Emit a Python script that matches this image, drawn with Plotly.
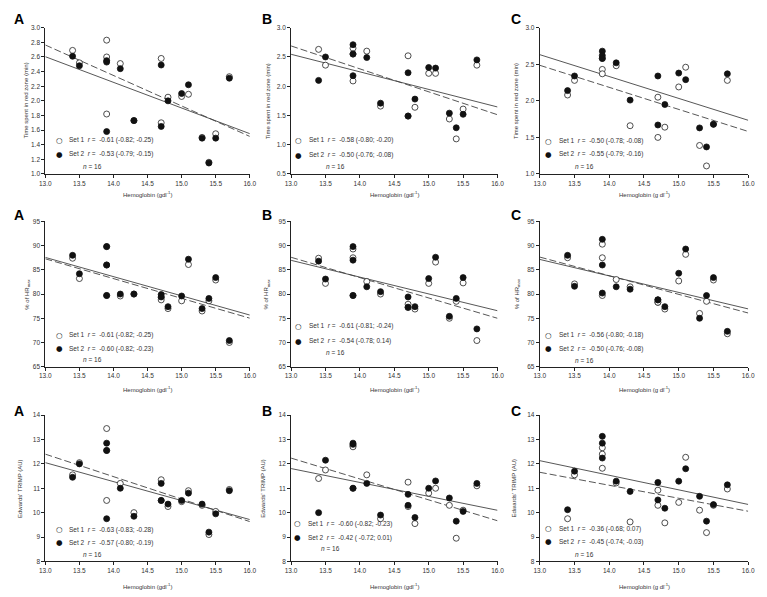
import numpy as np
import plotly.graph_objects as go

# hemoglobin (g/dl), same 16 subjects in every panel
hb = [13.4, 13.5, 13.9, 13.9, 13.9, 14.1, 14.3, 14.7, 14.7, 14.8, 15.0, 15.1, 15.3, 15.4, 15.5, 15.7]

# row 1: time spent in red zone (min)
red_a_set1 = [2.69, 2.52, 2.83, 2.60, 1.82, 2.51, 1.73, 2.58, 1.70, 2.05, 2.06, 2.09, 1.50, 1.16, 1.55, 2.33]
red_a_set2 = [2.61, 2.48, 2.55, 2.53, 1.58, 2.44, 1.73, 2.49, 1.65, 2.00, 2.10, 2.22, 1.49, 1.15, 1.49, 2.31]
red_b_set1 = [2.63, 2.36, 2.65, 2.55, 2.09, 2.60, 1.66, 2.52, 1.49, 1.64, 2.22, 2.22, 1.44, 1.10, 1.61, 2.36]
red_b_set2 = [2.10, 2.50, 2.71, 2.55, 2.18, 2.49, 1.71, 2.23, 1.49, 1.78, 2.32, 2.31, 1.54, 1.29, 1.52, 2.45]
red_c_set1 = [2.08, 2.28, 2.43, 2.37, 2.58, 2.48, 1.66, 2.05, 1.50, 1.64, 2.19, 2.46, 1.39, 1.11, 1.68, 2.28]
red_c_set2 = [2.14, 2.34, 2.68, 2.62, 2.58, 2.52, 2.01, 2.34, 1.67, 1.95, 2.38, 2.29, 1.63, 1.37, 1.68, 2.37]

# row 2: % of HRmax
hr_a_set1 = [87.4, 83.2, 89.8, 86.0, 79.7, 79.6, 80.0, 79.3, 78.8, 77.0, 78.6, 86.1, 76.5, 78.6, 82.9, 70.0]
hr_a_set2 = [88.0, 84.2, 89.8, 86.0, 79.7, 80.0, 80.0, 79.9, 79.4, 77.4, 79.6, 87.2, 77.0, 79.1, 83.4, 70.4]
hr_b_set1 = [87.4, 82.2, 89.3, 87.5, 79.7, 82.6, 80.0, 77.9, 77.2, 76.9, 82.2, 86.6, 75.0, 78.5, 82.3, 70.4]
hr_b_set2 = [86.8, 83.1, 89.8, 87.0, 79.7, 81.5, 80.5, 79.4, 77.3, 77.4, 83.2, 87.6, 75.4, 79.1, 83.4, 72.8]
hr_c_set1 = [87.5, 82.1, 90.3, 87.5, 79.7, 83.0, 81.5, 78.3, 78.3, 76.9, 82.7, 88.2, 76.0, 78.5, 82.9, 71.8]
hr_c_set2 = [88.0, 81.6, 91.3, 86.0, 80.2, 81.5, 81.0, 78.8, 78.8, 77.4, 84.3, 89.3, 75.0, 79.7, 83.4, 72.3]

# row 3: Edwards' TRIMP (AU)
trimp_a_set1 = [11.55, 12.05, 13.45, 12.55, 10.5, 11.2, 10.0, 11.35, 10.5, 10.25, 10.45, 10.9, 10.3, 9.1, 10.05, 10.95]
trimp_a_set2 = [11.45, 12.0, 12.85, 12.55, 9.75, 11.0, 9.85, 11.2, 10.5, 10.35, 10.5, 10.8, 10.35, 9.2, 9.95, 10.9]
trimp_b_set1 = [11.4, 11.75, 12.75, 12.7, 11.0, 11.55, 9.75, 11.25, 10.25, 9.55, 10.8, 11.0, 10.3, 8.95, 10.1, 11.1]
trimp_b_set2 = [10.0, 12.15, 12.85, 12.8, 11.0, 11.2, 9.9, 10.75, 10.3, 9.8, 11.0, 11.3, 10.6, 9.65, 10.05, 11.2]
trimp_c_set1 = [9.75, 11.55, 12.66, 12.40, 11.82, 11.22, 9.62, 10.92, 10.30, 9.58, 10.42, 12.27, 10.10, 9.18, 10.30, 10.97]
trimp_c_set2 = [10.12, 11.70, 13.13, 12.85, 12.24, 11.29, 10.87, 11.24, 10.52, 10.18, 11.29, 11.80, 10.67, 9.65, 10.33, 11.14]

# correlation text per panel (set 1, set 2)
r_text = [
    ("-0.61 (-0.82; -0.25)", "-0.53 (-0.79; -0.15)"),
    ("-0.58 (-0.80; -0.20)", "-0.50 (-0.76; -0.08)"),
    ("-0.50 (-0.78; -0.08)", "-0.55 (-0.79; -0.16)"),
    ("-0.61 (-0.82; -0.25)", "-0.60 (-0.82; -0.23)"),
    ("-0.61 (-0.81; -0.24)", "-0.54 (-0.78; 0.14)"),
    ("-0.56 (-0.80; -0.18)", "-0.50 (-0.76; -0.08)"),
    ("-0.63 (-0.83; -0.28)", "-0.57 (-0.80; -0.19)"),
    ("-0.60 (-0.82; -0.23)", "-0.42 ( -0.72; 0.01)"),
    ("-0.36 (-0.68; 0.07)", "-0.45 (-0.74; -0.03)"),
]
set_labels = ["Set 1", "Set 2"]
panel_letters = ["A", "B", "C"]
n_subjects = 16

series = [
    (red_a_set1, red_a_set2), (red_b_set1, red_b_set2), (red_c_set1, red_c_set2),
    (hr_a_set1, hr_a_set2), (hr_b_set1, hr_b_set2), (hr_c_set1, hr_c_set2),
    (trimp_a_set1, trimp_a_set2), (trimp_b_set1, trimp_b_set2), (trimp_c_set1, trimp_c_set2),
]

# ---- layout geometry (pixels) ----
W, H = 767, 597
col_px = [(40, 248), (290, 500), (543, 755)]
row_px = [(24, 172), (220, 367), (416, 564)]
yranges = [[(1, 3), (0.5, 3), (1, 3)], [(65, 95)] * 3, [(8, 14)] * 3]
ydticks = [[0.2, 0.5, 0.5], [5] * 3, [1] * 3]
yformats = [".1f", "d", "d"]
ytitles = ["Time spent in red zone (min)", "% of HR<sub>max</sub>", "Edwards' TRIMP (AU)"]
xtitles = ["Hemoglobin (gdl<sup>-1</sup>)", "Hemoglobin (gdl<sup>-1</sup>)", "Hemoglobin (g dl<sup>-1</sup>)"]
ytitle_x = [[20, 266, 519], [21, 265, 520], [15, 262, 517]]
letter_x = [6, 258, 512]
letter_y = [15, 213, 412]
xtitle_y = [192, 390, 589]
legend_sym_x = [[54, 298, 552], [54, 298, 552], [54, 297, 552]]
legend_y = [[(138, 152, 164), (138, 153, 164), (139, 152, 164)],
            [(335, 349, 360), (326, 341, 353), (335, 349, 361)],
            [(532, 545, 557), (526, 540, 551), (531, 544, 557)]]
n_x = [[76, 323, 577], [76, 323, 577], [76, 318, 577]]

FONT = "Arial, Liberation Sans, sans-serif"
TICK_FONT = "Liberation Sans Narrow, Arial Narrow, Arial, sans-serif"
def px(x):
    return x / W
def py(y):
    return 1 - y / H

def note(text, x, y, xanchor="center", size=6, **kw):
    font = dict(size=size, color="#333", family=FONT)
    font.update(kw.pop("font", {}))
    return dict(text=text, x=px(x), y=py(y), xref="paper", yref="paper", showarrow=False,
                xanchor=xanchor, yanchor="middle", font=font, **kw)

fig = go.Figure()
annotations = []
layout = {}

for i in range(9):
    r, c = divmod(i, 3)
    sfx = "" if i == 0 else str(i + 1)
    xa, ya = "x" + sfx, "y" + sfx
    s1, s2 = series[i]

    xs = np.array([13.0, 16.0])
    # regression lines: set 1 dashed, set 2 solid
    for ys, dash in ((s1, "7px,3px"), (s2, "solid")):
        k, b = np.polyfit(hb, ys, 1)
        fig.add_trace(go.Scatter(x=xs, y=k * xs + b, mode="lines", xaxis=xa, yaxis=ya,
                                 line=dict(color="#444", width=0.9, dash=dash),
                                 showlegend=False, hoverinfo="skip"))
    fig.add_trace(go.Scatter(x=hb, y=s1, mode="markers", xaxis=xa, yaxis=ya, showlegend=False,
                             marker=dict(size=6, color="white", line=dict(color="#222", width=0.8))))
    fig.add_trace(go.Scatter(x=hb, y=s2, mode="markers", xaxis=xa, yaxis=ya, showlegend=False,
                             marker=dict(size=6, color="#111", line=dict(color="#111", width=0.8))))

    x0, x1 = col_px[c]
    y0, y1 = row_px[r]
    axis_common = dict(showline=True, linecolor="#222", linewidth=1, ticks="outside",
                       ticklen=3, tickwidth=1, tickcolor="#222", showgrid=False, zeroline=False,
                       tickfont=dict(size=6.5, color="#333", family=TICK_FONT))
    layout["xaxis" + sfx] = dict(axis_common, domain=[px(x0), px(x1)], anchor=ya,
                                 range=[13, 16.0001], dtick=0.5, tick0=13, tickformat=".1f")
    lo, hi = yranges[r][c]
    layout["yaxis" + sfx] = dict(axis_common, domain=[py(y1), py(y0)], anchor=xa,
                                 range=[lo, hi + 1e-4], dtick=ydticks[r][c], tick0=lo,
                                 tickformat=yformats[r])

    # axis titles
    annotations.append(note(xtitles[c], (x0 + x1) / 2, xtitle_y[r]))
    annotations.append(note(ytitles[r], ytitle_x[r][c], (y0 + y1) / 2, textangle=-90))
    # panel letter
    annotations.append(note("<b>%s</b>" % panel_letters[c], letter_x[c], letter_y[r],
                            xanchor="left", size=14, font=dict(color="black")))
    # in-plot legend
    ly1, ly2, ln = legend_y[r][c]
    sx = legend_sym_x[r][c]
    for sym, lab, rt, yy in (("\u25cb", set_labels[0], r_text[i][0], ly1),
                             ("\u25cf", set_labels[1], r_text[i][1], ly2)):
        annotations.append(note(sym, sx, yy, size=7.5, font=dict(color="#111", family="DejaVu Sans")))
        annotations.append(note(lab + "\u00a0\u00a0<i>r</i>\u00a0=\u00a0\u00a0" + rt, sx + 8, yy,
                                xanchor="left", size=6.5))
    annotations.append(note("<i>n</i> = %d" % n_subjects, n_x[r][c], ln, xanchor="left", size=6.5))

fig.update_layout(width=W, height=H, margin=dict(l=0, r=0, t=0, b=0),
                  paper_bgcolor="white", plot_bgcolor="white",
                  showlegend=False, annotations=annotations, **layout)

# drop the default 8px page margin so the figure sits at the window origin
fig.write_html("out.html", config={"displayModeBar": False},
               post_script="document.body.style.margin='0';")
